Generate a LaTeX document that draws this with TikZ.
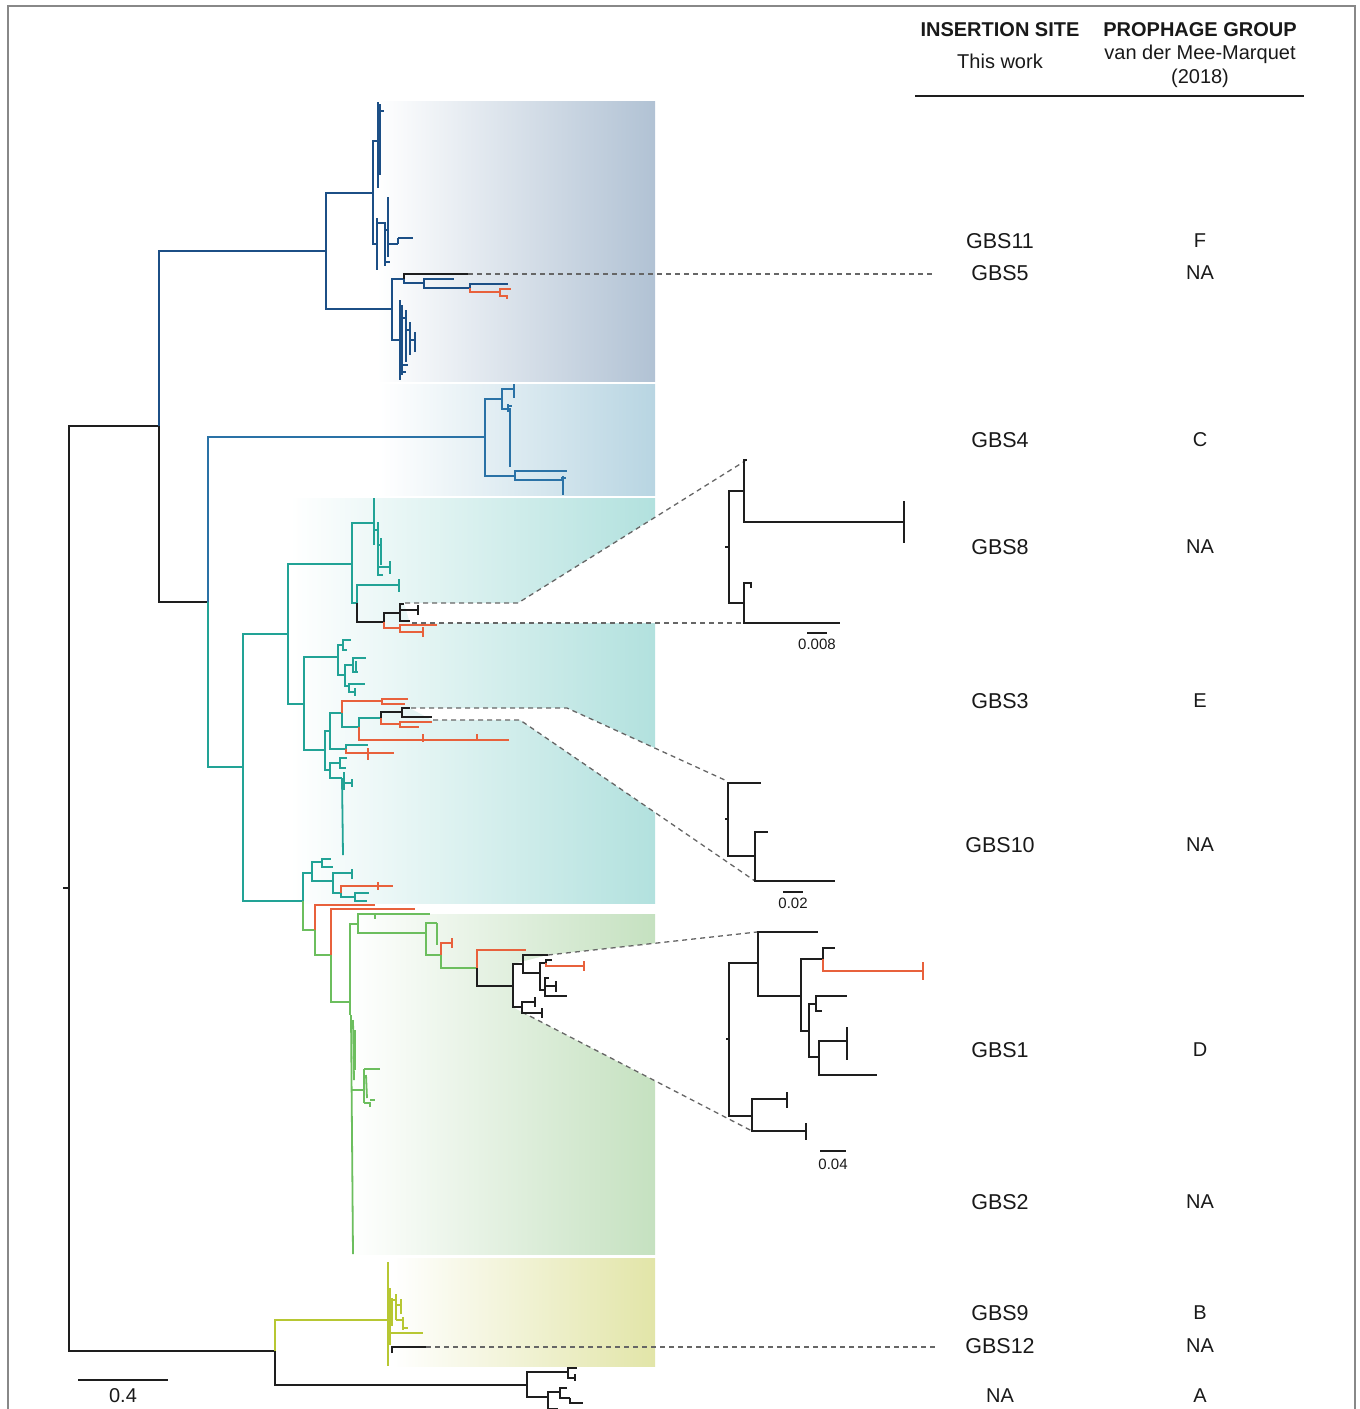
\documentclass[tikz,border=0pt]{standalone}
\usepackage{fontspec}
\setmainfont{Liberation Sans}
\definecolor{cnavy}{HTML}{1C4F86}
\definecolor{cblue}{HTML}{2A72A6}
\definecolor{cteal}{HTML}{22A396}
\definecolor{cgreen}{HTML}{6CBE5E}
\definecolor{cyell}{HTML}{B7C733}
\definecolor{cred}{HTML}{E8613C}
\definecolor{cblk}{HTML}{1E1E1E}
\definecolor{cdash}{HTML}{666666}
\definecolor{cframe}{HTML}{888888}
\definecolor{pnavy}{HTML}{B1C2D4}
\definecolor{pblue}{HTML}{B8D5E2}
\definecolor{pteal}{HTML}{B2E1DE}
\definecolor{pgreen}{HTML}{C5E1C0}
\definecolor{pyell}{HTML}{E2E5A8}
\begin{document}
\begin{tikzpicture}[x=1pt,y=-1pt,
  tree/.style={line width=1.8pt},
  bnv/.style={tree,draw=cnavy},
  bbl/.style={tree,draw=cblue},
  btl/.style={tree,draw=cteal},
  bgr/.style={tree,draw=cgreen},
  byl/.style={tree,draw=cyell},
  brd/.style={tree,draw=cred},
  bbk/.style={tree,draw=cblk},
  dsh/.style={draw=cdash,line width=1.3pt,dash pattern=on 5pt off 4pt},
  lbl/.style={font=\fontsize{20}{24}\selectfont,inner sep=0pt,text=black!90},
  site/.style={font=\fontsize{21.5}{26}\selectfont,inner sep=0pt,text=black!90},
  hdr/.style={font=\fontsize{20}{24}\selectfont\bfseries,inner sep=0pt,text=black!90},
  sml/.style={font=\fontsize{15}{18}\selectfont,inner sep=0pt,text=black!90},
]
\useasboundingbox (0,0) rectangle (1360,1409);
% frame
\draw[cframe,line width=1.5pt] (8,1409) -- (8,6) -- (1355,6) -- (1355,1409);

% panels
\shade[left color=white,right color=pnavy] (377,101) rectangle (655,381);
\shade[left color=white,right color=pblue] (380,384) rectangle (655,495);
\shade[left color=white,right color=pteal] (290,498) rectangle (655,903);
\shade[left color=white,right color=pgreen] (350,914) rectangle (655,1254);
\shade[left color=white,right color=pyell] (392,1258) rectangle (655,1366);

% white wedges of the enlargements
\fill[white] (404,603) -- (518,603) -- (745,461) -- (745,623) -- (410,623) -- cycle;
\fill[white] (410,708) -- (567,708) -- (727,781) -- (755,881) -- (520,720) -- (432,720) -- cycle;
\fill[white] (513,1007) -- (513,964) -- (548,955) -- (757,932) -- (752,1131) -- (522,1012) -- cycle;

% dashed guide lines
\draw[dsh] (405,603) -- (518,603) -- (745,461);
\draw[dsh] (412,623) -- (743,623);
\draw[dsh] (411,708) -- (567,708) -- (727,781);
\draw[dsh] (433,720) -- (520,720) -- (755,881);
\draw[dsh] (548,955) -- (757,932);
\draw[dsh] (522,1012) -- (752,1131);
\draw[dsh] (468,274) -- (935,274);
\draw[dsh] (426,1347) -- (935,1347);

% ---------------- main tree ----------------
\draw[bbk] (63,888) -- (69,888);
\draw[bbk] (69,888) |- (159,426);
\draw[bbk] (69,888) |- (275,1351);
\draw[bnv] (159,426) |- (326,251);
\draw[bbk] (159,426) |- (208,602);

% navy clade
\draw[bnv] (326,251) |- (373,193);
\draw[bnv] (373,193) |- (378,141);
\draw[bnv] (378,102) -- (378,188);
\draw[bnv] (380,104) -- (380,175);
\draw[bnv] (378,111) -- (384,111);
\draw[bnv] (373,193) |- (377,244);
\draw[bnv] (377,218) -- (377,270);
\draw[bnv] (377,223) -- (385,223) -- (385,266);
\draw[bnv] (385,230) -- (388,230);
\draw[bnv] (388,197) -- (388,257);
\draw[bnv] (388,244) -- (398,244);
\draw[bnv] (398,238) -- (398,244);
\draw[bnv] (398,238) -- (413,238);
\draw[bnv] (385,262) -- (390,262);
\draw[bnv] (326,251) |- (392,309);
\draw[bnv] (392,309) |- (404,279);
\draw[bbk] (404,279) |- (468,274);
\draw[bnv] (404,279) |- (424,283);
\draw[bnv] (424,283) |- (454,279);
\draw[bnv] (424,283) |- (470,288);
\draw[bnv] (470,288) |- (508,284);
\draw[brd] (470,288) |- (500,292);
\draw[brd] (500,292) |- (511,289);
\draw[brd] (500,292) |- (508,296);
\draw[brd] (507,296) -- (507,299);
\draw[bnv] (392,309) |- (400,340);
\draw[bnv] (400,300) -- (400,380);
\draw[bnv] (402,305) -- (402,375);
\draw[bnv] (400,318) -- (406,318);
\draw[bnv] (406,310) -- (406,362);
\draw[bnv] (406,330) -- (410,330);
\draw[bnv] (410,322) -- (410,355);
\draw[bnv] (410,340) -- (415,340);
\draw[bnv] (415,332) -- (415,352);
\draw[bnv] (402,365) -- (408,365);
\draw[bnv] (402,372) -- (406,372);

% blue clade (GBS4)
\draw[bbl] (208,602) |- (485,437);
\draw[bbl] (485,437) |- (502,399);
\draw[bbl] (502,399) |- (514,389);
\draw[bbl] (514,384) -- (514,398);
\draw[bbl] (502,399) |- (508,409);
\draw[bbl] (508,404) -- (508,412);
\draw[bbl] (508,406) -- (512,406);
\draw[bbl] (510,408) -- (510,467);
\draw[bbl] (485,437) |- (515,476);
\draw[bbl] (515,476) |- (567,471);
\draw[bbl] (515,476) |- (563,480);
\draw[bbl] (563,476) -- (563,495);
\draw[bbl] (561,478) -- (566,478);

% teal clade
\draw[btl] (208,602) |- (243,767);
\draw[btl] (243,767) |- (288,634);
\draw[btl] (243,767) |- (303,901);
\draw[btl] (288,634) |- (352,564);
\draw[btl] (288,634) |- (304,704);
\draw[btl] (352,564) |- (374,523);
\draw[btl] (374,498) -- (374,545);
\draw[btl] (374,530) -- (378,530);
\draw[btl] (378,522) -- (378,576);
\draw[btl] (378,545) -- (381,545);
\draw[btl] (381,538) -- (381,565);
\draw[btl] (378,567) -- (390,567);
\draw[btl] (390,561) -- (390,574);
\draw[btl] (378,575) -- (383,575);
\draw[btl] (352,564) |- (357,603);
\draw[btl] (357,603) |- (399,585);
\draw[btl] (399,579) -- (399,592);
\draw[bbk] (357,603) |- (384,622);
\draw[bbk] (384,622) |- (400,613);
\draw[bbk] (400,613) |- (404,604);
\draw[bbk] (400,613) |- (418,610);
\draw[bbk] (418,605) -- (418,615);
\draw[bbk] (400,613) |- (410,621);
\draw[brd] (384,622) |- (400,628);
\draw[brd] (400,628) |- (437,625);
\draw[brd] (400,628) |- (423,632);
\draw[brd] (423,627) -- (423,637);

\draw[btl] (304,704) |- (338,657);
\draw[btl] (338,657) |- (343,645);
\draw[btl] (343,645) |- (351,640);
\draw[btl] (343,645) |- (347,650);
\draw[btl] (338,657) |- (345,675);
\draw[btl] (345,675) |- (353,665);
\draw[btl] (353,665) |- (366,658);
\draw[btl] (353,665) |- (358,672);
\draw[btl] (356,661) -- (356,672);
\draw[btl] (345,675) |- (349,686);
\draw[btl] (349,686) |- (365,684);
\draw[btl] (349,686) |- (355,692);
\draw[btl] (355,688) -- (355,696);
\draw[btl] (304,704) |- (325,750);
\draw[btl] (325,750) |- (330,731);
\draw[btl] (330,731) |- (342,713);
\draw[brd] (342,713) |- (382,701);
\draw[brd] (382,701) |- (408,699);
\draw[brd] (382,701) |- (405,704);
\draw[btl] (342,713) |- (359,727);
\draw[btl] (359,727) |- (381,718);
\draw[bbk] (381,718) |- (402,712);
\draw[bbk] (402,712) |- (410,708);
\draw[bbk] (402,712) |- (432,717);
\draw[brd] (381,718) |- (400,724);
\draw[brd] (400,724) |- (432,722);
\draw[brd] (400,724) |- (419,727);
\draw[brd] (359,727) |- (423,740);
\draw[brd] (423,734) -- (423,742);
\draw[brd] (423,740) -- (509,740);
\draw[brd] (477,734) -- (477,740);
\draw[btl] (330,731) |- (346,749);
\draw[btl] (346,749) |- (368,745);
\draw[brd] (346,749) |- (394,753);
\draw[brd] (368,748) -- (368,760);
\draw[btl] (325,750) |- (330,770);
\draw[btl] (330,770) |- (340,763);
\draw[btl] (340,763) |- (347,758);
\draw[btl] (340,763) |- (346,768);
\draw[btl] (330,770) |- (342,778);
\draw[btl] (342,778) -- (343,855);
\draw[btl] (344,772) -- (344,790);
\draw[btl] (344,783) -- (352,783);
\draw[btl] (352,779) -- (352,787);

\draw[btl] (303,901) |- (312,873);
\draw[btl] (312,873) |- (322,862);
\draw[btl] (322,862) |- (331,859);
\draw[btl] (322,862) |- (333,867);
\draw[btl] (312,873) |- (333,881);
\draw[btl] (333,881) |- (352,873);
\draw[btl] (352,869) -- (352,879);
\draw[btl] (333,881) |- (341,893);
\draw[brd] (341,893) |- (393,886);
\draw[brd] (378,882) -- (378,890);
\draw[btl] (341,893) |- (355,897);
\draw[btl] (355,897) |- (369,893);
\draw[btl] (355,897) |- (367,901);

% green clade
\draw[bgr] (303,901) |- (315,930);
\draw[brd] (315,930) |- (375,905);
\draw[bgr] (315,930) |- (331,955);
\draw[brd] (331,955) |- (415,909);
\draw[bgr] (331,955) |- (350,1002);
\draw[bgr] (350,1002) |- (358,924);
\draw[bgr] (350,1002) -- (350,1015);
\draw[bgr] (351,1015) -- (353,1254);
\draw[bgr] (353,1020) -- (354,1080);
\draw[bgr] (355,1030) -- (355,1070);
\draw[bgr] (352,1090) -- (364,1090);
\draw[bgr] (364,1069) -- (364,1103);
\draw[bgr] (364,1069) -- (380,1069);
\draw[bgr] (366,1075) -- (367,1098);
\draw[bgr] (364,1103) -- (370,1103) -- (370,1107);
\draw[bgr] (370,1100) -- (375,1100);
\draw[bgr] (358,924) |- (430,914);
\draw[bgr] (375,914) -- (375,919);
\draw[bgr] (358,924) |- (426,933);
\draw[bgr] (426,933) |- (437,923);
\draw[bgr] (437,923) -- (437,945);
\draw[bgr] (426,933) |- (441,955);
\draw[brd] (441,955) |- (452,943);
\draw[brd] (452,938) -- (452,948);
\draw[bgr] (441,955) |- (477,968);
\draw[brd] (477,968) |- (526,950);
\draw[bbk] (477,968) |- (513,986);
\draw[bbk] (513,986) |- (523,964);
\draw[bbk] (523,964) |- (548,955);
\draw[bbk] (523,964) |- (540,973);
\draw[bbk] (540,973) |- (546,963);
\draw[bbk] (546,963) |- (552,960);
\draw[brd] (546,963) |- (584,966);
\draw[brd] (584,961) -- (584,971);
\draw[bbk] (540,973) |- (545,990);
\draw[bbk] (545,990) |- (549,978);
\draw[bbk] (545,990) |- (556,986);
\draw[bbk] (556,981) -- (556,992);
\draw[bbk] (545,990) |- (567,996);
\draw[bbk] (513,986) |- (522,1007);
\draw[bbk] (522,1007) |- (535,1002);
\draw[bbk] (535,997) -- (535,1007);
\draw[bbk] (522,1007) |- (542,1013);
\draw[bbk] (542,1008) -- (542,1018);

% yellow clade
\draw[byl] (275,1351) |- (388,1320);
\draw[byl] (388,1262) -- (388,1366);
\draw[byl] (390,1288) -- (390,1345);
\fill[cyell] (387,1298) rectangle (393,1326);
\draw[byl] (390,1300) -- (396,1300);
\draw[byl] (396,1294) -- (396,1320);
\draw[byl] (396,1305) -- (401,1305);
\draw[byl] (401,1299) -- (401,1314);
\draw[byl] (396,1320) -- (403,1320);
\draw[byl] (403,1317) -- (403,1330);
\draw[byl] (403,1328) -- (408,1328);
\draw[byl] (390,1333) -- (423,1333);
\draw[bbk] (392,1353) |- (426,1347);

% outgroup
\draw[bbk] (275,1351) |- (527,1385);
\draw[bbk] (527,1385) |- (568,1372);
\draw[bbk] (568,1372) |- (577,1368);
\draw[bbk] (568,1372) |- (575,1378);
\draw[bbk] (575,1374) -- (575,1381);
\draw[bbk] (527,1385) |- (548,1397);
\draw[bbk] (548,1397) |- (560,1392);
\draw[bbk] (560,1392) |- (567,1388);
\draw[bbk] (560,1392) |- (570,1398);
\draw[bbk] (570,1398) |- (583,1403);
\draw[bbk] (548,1397) |- (558,1409);

% scale bar main
\draw[bbk,line width=1.6pt] (78,1380) -- (168,1380);
\node[lbl] (sc0) at (123,1396) {0.4};

% ---------------- enlargement GBS8 ----------------
\draw[bbk] (725,547) -- (729,547);
\draw[bbk] (729,547) |- (744,491);
\draw[bbk] (729,547) |- (744,603);
\draw[bbk] (744,491) |- (747,460);
\draw[bbk] (744,491) |- (904,522);
\draw[bbk] (904,501) -- (904,543);
\draw[bbk] (744,603) |- (751,583);
\draw[bbk] (751,582) -- (751,588);
\draw[bbk] (744,603) |- (840,623);
\draw[bbk] (807,633) -- (827,633);
\node[sml] (sc1) at (817,644) {0.008};

% ---------------- enlargement GBS10 ----------------
\draw[bbk] (725,819) -- (728,819);
\draw[bbk] (728,819) |- (761,783);
\draw[bbk] (728,819) |- (755,856);
\draw[bbk] (755,856) |- (768,832);
\draw[bbk] (755,856) |- (835,881);
\draw[bbk] (783,892) -- (803,892);
\node[sml] (sc2) at (793,903) {0.02};

% ---------------- enlargement GBS1 ----------------
\draw[bbk] (726,1039) -- (729,1039);
\draw[bbk] (729,1039) |- (758,963);
\draw[bbk] (729,1039) |- (752,1116);
\draw[bbk] (758,963) |- (818,932);
\draw[bbk] (758,963) |- (801,996);
\draw[bbk] (801,996) |- (823,959);
\draw[bbk] (823,959) |- (835,948);
\draw[brd] (823,959) |- (923,971);
\draw[brd] (923,962) -- (923,980);
\draw[bbk] (801,996) |- (809,1031);
\draw[bbk] (809,1031) |- (816,1004);
\draw[bbk] (816,1004) |- (847,996);
\draw[bbk] (816,1004) |- (822,1011);
\draw[bbk] (809,1031) |- (819,1057);
\draw[bbk] (819,1057) |- (847,1041);
\draw[bbk] (847,1027) -- (847,1060);
\draw[bbk] (819,1057) |- (877,1075);
\draw[bbk] (752,1116) |- (787,1099);
\draw[bbk] (787,1092) -- (787,1108);
\draw[bbk] (752,1116) |- (806,1131);
\draw[bbk] (806,1123) -- (806,1140);
\draw[bbk] (820,1151) -- (846,1151);
\node[sml] (sc3) at (833,1164) {0.04};

% ---------------- table ----------------
\node[hdr] (h1) at (1000,30) {INSERTION SITE};
\node[lbl] (h1b) at (1000,61) {This work};
\node[hdr] (h2) at (1200,30) {PROPHAGE GROUP};
\node[lbl] (h2b) at (1200,54) {van der Mee-Marquet};
\node[lbl] (h2c) at (1200,78) {(2018)};
\draw[cblk,line width=1.4pt] (915,96) -- (1304,96);

\node[site] (s11) at (1000,241) {GBS11};  \node[lbl] (p11) at (1200,241) {F};
\node[site] (s5)  at (1000,273) {GBS5};   \node[lbl] (p5)  at (1200,273) {NA};
\node[site] (s4)  at (1000,440) {GBS4};   \node[lbl] (p4)  at (1200,440) {C};
\node[site] (s8)  at (1000,547) {GBS8};   \node[lbl] (p8)  at (1200,547) {NA};
\node[site] (s3)  at (1000,701) {GBS3};   \node[lbl] (p3)  at (1200,701) {E};
\node[site] (s10) at (1000,845) {GBS10};  \node[lbl] (p10) at (1200,845) {NA};
\node[site] (s1)  at (1000,1050) {GBS1};  \node[lbl] (p1)  at (1200,1050) {D};
\node[site] (s2)  at (1000,1202) {GBS2};  \node[lbl] (p2)  at (1200,1202) {NA};
\node[site] (s9)  at (1000,1313) {GBS9};  \node[lbl] (p9)  at (1200,1313) {B};
\node[site] (s12) at (1000,1346) {GBS12}; \node[lbl] (p12) at (1200,1346) {NA};
\node[lbl] (s0)  at (1000,1396) {NA};     \node[lbl] (p0)  at (1200,1396) {A};
\end{tikzpicture}
\end{document}
